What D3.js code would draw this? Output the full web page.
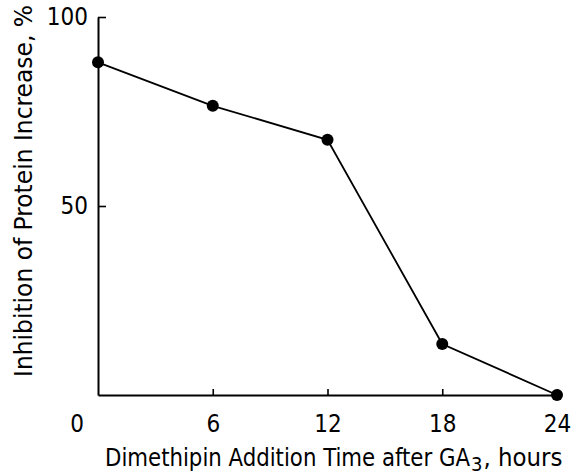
<!DOCTYPE html>
<html>
<head>
<meta charset="utf-8">
<script src="https://cdn.jsdelivr.net/npm/d3@7"></script>
<style>
  body { margin: 0; background: #fff; }
  svg text { font-family: "DejaVu Sans Condensed", "DejaVu Sans", sans-serif; fill: #000; }
</style>
</head>
<body>
<div id="chart"></div>
<script>
var hours = [0, 6, 12, 18, 24];
var inhibition = [88, 76.5, 67.5, 13.5, 0];
var xTicks = [6, 12, 18, 24];
var yTicks = [50, 100];

var width = 587, height = 476;
var margin = {top: 17, right: 30, bottom: 81, left: 98};

var svg = d3.select('#chart').append('svg')
  .attr('width', width).attr('height', height);

var x = d3.scaleLinear().domain([0, 24]).range([margin.left, 557]);
var y = d3.scaleLinear().domain([0, 100]).range([height - margin.bottom, margin.top]);

// x axis, ticks pointing up
var xAxis = svg.append('g')
  .attr('transform', 'translate(0,' + y(0) + ')')
  .call(d3.axisBottom(x).tickValues(xTicks).tickSizeInner(-6).tickSizeOuter(0));
xAxis.select('.domain').attr('stroke-width', 2);
xAxis.selectAll('.tick line').attr('stroke-width', 1.6);
xAxis.selectAll('.tick text')
  .attr('y', 37).attr('dy', 0)
  .style('font-size', '24px');

// y axis, ticks pointing right
var yAxis = svg.append('g')
  .attr('transform', 'translate(' + x(0) + ',0)')
  .call(d3.axisLeft(y).tickValues(yTicks).tickSizeInner(-8).tickSizeOuter(0).tickPadding(10));
yAxis.select('.domain').attr('stroke-width', 2);
yAxis.selectAll('.tick line').attr('stroke-width', 1.6);
yAxis.selectAll('.tick text').style('font-size', '24px');

// shared origin label
svg.append('text')
  .attr('x', 77).attr('y', 432)
  .attr('text-anchor', 'middle')
  .style('font-size', '24px')
  .text('0');

// data line
var line = d3.line()
  .x(function (d, i) { return x(hours[i]); })
  .y(function (d) { return y(d); });

svg.append('path')
  .datum(inhibition)
  .attr('d', line)
  .attr('fill', 'none')
  .attr('stroke', '#000')
  .attr('stroke-width', 1.8);

svg.selectAll('circle')
  .data(inhibition)
  .enter()
  .append('circle')
  .attr('cx', function (d, i) { return x(hours[i]); })
  .attr('cy', function (d) { return y(d); })
  .attr('r', 6)
  .attr('fill', '#000');

// axis titles
var xt = svg.append('text')
  .attr('x', 105).attr('y', 466)
  .style('font-size', '25px');
xt.append('tspan')
  .attr('textLength', 365).attr('lengthAdjust', 'spacingAndGlyphs')
  .text('Dimethipin Addition Time after GA');
xt.append('tspan').attr('dx', 1).attr('dy', 5).style('font-size', '20px').text('3');
xt.append('tspan').attr('dx', 1).attr('dy', -5)
  .attr('textLength', 79).attr('lengthAdjust', 'spacingAndGlyphs')
  .text(', hours');

svg.append('text')
  .attr('transform', 'translate(32,191) rotate(-90)')
  .attr('text-anchor', 'middle')
  .attr('textLength', 372)
  .attr('lengthAdjust', 'spacingAndGlyphs')
  .style('font-size', '25px')
  .text('Inhibition of Protein Increase, %');
</script>
</body>
</html>
